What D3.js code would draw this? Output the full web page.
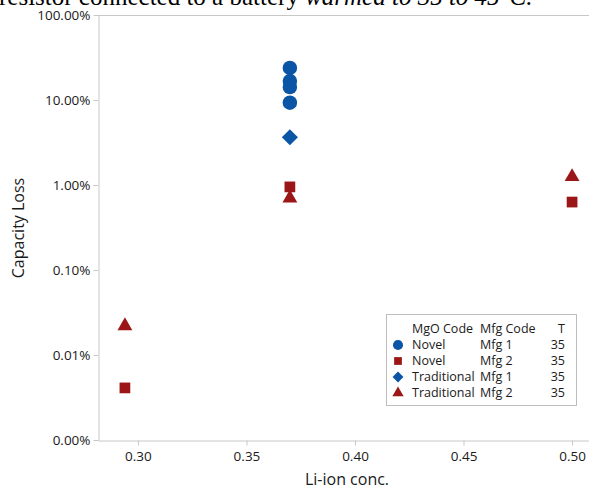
<!DOCTYPE html>
<meta charset="utf-8">
<style>
body { margin: 0; background: #fff; }
text { font-family: "Open Sans", "Noto Sans", sans-serif; fill: #1a1a1a; }
.axis path, .axis line { stroke: #c8c8c8; }
</style>
<svg width="589" height="489"></svg>
<script src="https://d3js.org/d3.v7.min.js"></script>
<script>

// data (capacity loss as a fraction)
var groups = [
  {mgo: "Novel", mfg: "Mfg 1", t: 35, shape: "circle", color: "#0a55a5"},
  {mgo: "Novel", mfg: "Mfg 2", t: 35, shape: "square", color: "#9b1616"},
  {mgo: "Traditional", mfg: "Mfg 1", t: 35, shape: "diamond", color: "#0a55a5"},
  {mgo: "Traditional", mfg: "Mfg 2", t: 35, shape: "triangle", color: "#9b1616"}
];
var liConc = [0.37, 0.37, 0.37, 0.37, 0.37, 0.294, 0.37, 0.50, 0.294, 0.37, 0.50];
var capLoss = [0.238, 0.167, 0.142, 0.093, 0.0364, 0.000041, 0.0095, 0.0063, 0.00022, 0.0070, 0.0125];
var groupIdx = [0, 0, 0, 0, 2, 1, 1, 1, 3, 3, 3];
var xTicks = [0.30, 0.35, 0.40, 0.45, 0.50];
var yTicks = [1, 0.1, 0.01, 0.001, 0.0001, 0.00001];
var yTickLabels = ["100.00%", "10.00%", "1.00%", "0.10%", "0.01%", "0.00%"];

var svg = d3.select("svg"),
    width = +svg.attr("width"),
    height = +svg.attr("height");

var plotLeft = 98, plotTop = 15, plotBottom = 440;

// truncated caption text above the chart
svg.append("text")
    .attr("x", -1)
    .attr("y", 5)
    .style("font-family", "'Liberation Serif', serif")
    .style("font-size", "25px")
    .style("fill", "#000")
    .html('resistor connected to a battery <tspan font-style="italic">warmed to 35 to 45°C.</tspan>');

var x = d3.scaleLinear().domain([0.2816, 0.5078]).range([plotLeft, width]);
var y = d3.scaleLog().domain([0.00001, 1]).range([plotBottom, plotTop]);

// frame top line
svg.append("line")
    .attr("x1", plotLeft).attr("x2", width)
    .attr("y1", plotTop + 0.5).attr("y2", plotTop + 0.5)
    .attr("stroke", "#c8c8c8");

var yAxis = svg.append("g")
    .attr("class", "axis")
    .attr("transform", "translate(" + (plotLeft + 0.5) + ",0)")
    .call(d3.axisLeft(y).tickValues(yTicks).tickSize(5).tickSizeOuter(0)
      .tickFormat(function(d, i) { return yTickLabels[i]; }));
yAxis.selectAll("text").style("font-size", "13.5px").attr("x", -8);

var xAxis = svg.append("g")
    .attr("class", "axis")
    .attr("transform", "translate(0," + (plotBottom + 0.5) + ")")
    .call(d3.axisBottom(x).tickValues(xTicks).tickSize(5).tickSizeOuter(0)
      .tickFormat(d3.format(".2f")));
xAxis.selectAll("text").style("font-size", "13.5px").attr("y", 11);

svg.append("text")
    .attr("x", 347)
    .attr("y", 485)
    .attr("text-anchor", "middle")
    .style("font-size", "16px")
    .text("Li-ion conc.");

svg.append("text")
    .attr("transform", "translate(24,228) rotate(-90)")
    .attr("text-anchor", "middle")
    .style("font-size", "16px")
    .text("Capacity Loss");

var symbolTypes = {
  circle: d3.symbolCircle,
  square: d3.symbolSquare,
  diamond: d3.symbolDiamond2,
  triangle: d3.symbolTriangle
};
var plotSizes = {circle: 165, square: 115, diamond: 165, triangle: 95};
var legendSizes = {circle: 80, square: 60, diamond: 75, triangle: 55};

var points = liConc.map(function(v, i) {
  return {x: v, y: capLoss[i], g: groups[groupIdx[i]]};
});

svg.append("g")
  .selectAll("path")
  .data(points)
  .enter().append("path")
    .attr("transform", function(d) { return "translate(" + x(d.x) + "," + y(d.y) + ")"; })
    .attr("d", function(d) { return d3.symbol().type(symbolTypes[d.g.shape]).size(plotSizes[d.g.shape])(); })
    .attr("fill", function(d) { return d.g.color; });

// legend
var lg = svg.append("g").attr("transform", "translate(386,314)");
lg.append("rect")
    .attr("x", 0.5).attr("y", 0.5)
    .attr("width", 190).attr("height", 91)
    .attr("fill", "#fff")
    .attr("stroke", "#bdbdbd");

var header = lg.append("g").style("font-size", "12.5px");
header.append("text").attr("x", 26).attr("y", 19).text("MgO Code");
header.append("text").attr("x", 94).attr("y", 19).text("Mfg Code");
header.append("text").attr("x", 179).attr("y", 19).attr("text-anchor", "end").text("T");

var rows = lg.selectAll(".row")
  .data(groups)
  .enter().append("g")
    .attr("class", "row")
    .attr("transform", function(d, i) { return "translate(0," + (35 + i * 16) + ")"; })
    .style("font-size", "12.5px");

rows.append("path")
    .attr("transform", "translate(12,-4)")
    .attr("d", function(d) { return d3.symbol().type(symbolTypes[d.shape]).size(legendSizes[d.shape])(); })
    .attr("fill", function(d) { return d.color; });
rows.append("text").attr("x", 26).text(function(d) { return d.mgo; });
rows.append("text").attr("x", 94).text(function(d) { return d.mfg; });
rows.append("text").attr("x", 179).attr("text-anchor", "end").text(function(d) { return d.t; });

</script>
